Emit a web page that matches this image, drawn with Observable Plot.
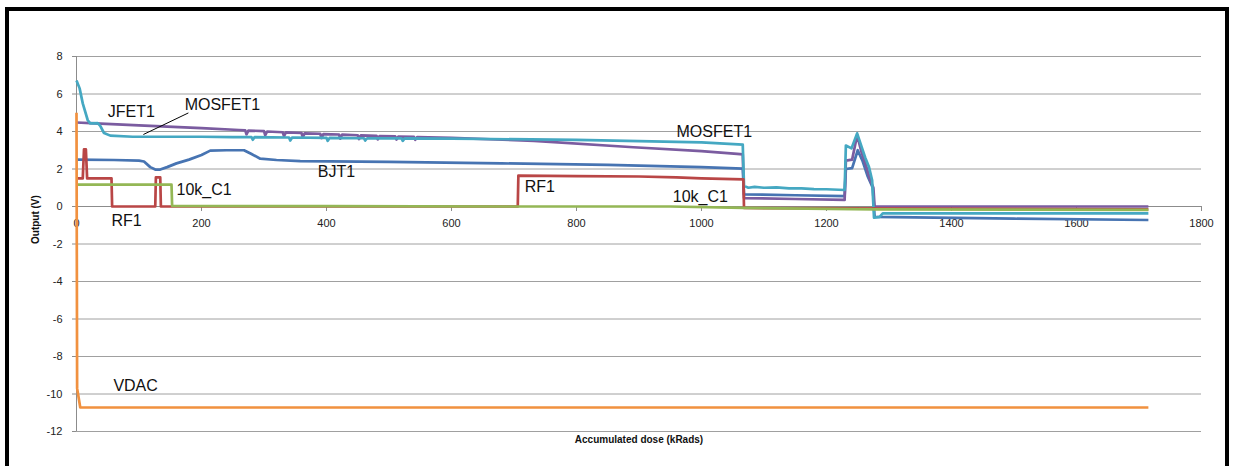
<!DOCTYPE html>
<html>
<head>
<meta charset="utf-8">
<script src="https://cdn.jsdelivr.net/npm/d3@7"></script>
<script src="https://cdn.jsdelivr.net/npm/@observablehq/plot@0.6"></script>
<style>
  html, body { margin: 0; padding: 0; background: #fff; overflow: hidden; }
  #wrap { position: relative; width: 1235px; height: 466px; }
  #frame { position: absolute; left: 5px; top: 7px; width: 1216px; height: 470px; border: 4px solid #000; pointer-events: none; }
  #chart { position: absolute; left: 0; top: 0; }
</style>
</head>
<body>
<div id="wrap"><div id="chart"></div><div id="frame"></div></div>
<script>
// ---- data ----
const xTicks = [0, 200, 400, 600, 800, 1000, 1200, 1400, 1600, 1800];
const yTicks = [-12, -10, -8, -6, -4, -2, 0, 2, 4, 6, 8];

const BJT1 = [[0,2.5],[60,2.48],[100,2.45],[108,2.4],[118,2.1],[126,1.97],[134,1.97],[145,2.1],[160,2.3],[180,2.5],[200,2.75],[214,2.98],[240,3.0],[268,3.0],[280,2.8],[294,2.55],[320,2.48],[358,2.42],[500,2.38],[680,2.3],[850,2.22],[1000,2.1],[1066,2.02],[1068,0.65],[1150,0.6],[1229,0.55],[1231,2.0],[1241,2.05],[1250,3.0],[1258,2.4],[1266,1.6],[1274,1.0],[1277,-0.55],[1500,-0.65],[1715,-0.72]];

const JFET1 = [[0,4.48],[30,4.43],[100,4.33],[200,4.18],[260,4.08],[270,4.06],[272,3.85],[275,4.05],[300,4.02],[302,3.8],[305,4.0],[330,3.96],[332,3.75],[335,3.95],[360,3.92],[362,3.7],[365,3.9],[390,3.88],[392,3.65],[395,3.86],[420,3.84],[422,3.62],[425,3.83],[450,3.8],[452,3.6],[455,3.79],[480,3.77],[482,3.58],[485,3.76],[510,3.74],[512,3.57],[515,3.73],[540,3.71],[542,3.56],[545,3.7],[600,3.66],[732,3.5],[891,3.16],[1000,2.95],[1057,2.81],[1066,2.78],[1068,0.45],[1150,0.4],[1229,0.35],[1231,2.45],[1241,2.5],[1249,3.8],[1256,2.9],[1263,2.2],[1270,1.4],[1275,1.0],[1277,0.0],[1715,0.0]];

const MOSFET1 = [[0,6.72],[5,6.3],[10,5.5],[18,4.6],[22,4.43],[34,4.45],[38,4.3],[44,3.92],[54,3.78],[90,3.72],[200,3.72],[250,3.7],[280,3.7],[282,3.56],[285,3.7],[340,3.68],[342,3.52],[345,3.68],[400,3.66],[402,3.5],[405,3.66],[460,3.64],[462,3.52],[465,3.64],[520,3.63],[522,3.5],[525,3.63],[600,3.62],[800,3.55],[1000,3.42],[1066,3.3],[1068,1.1],[1075,1.0],[1085,1.05],[1100,1.0],[1120,1.02],[1140,0.97],[1160,0.97],[1180,0.93],[1200,0.92],[1229,0.88],[1231,3.25],[1240,3.1],[1249,3.9],[1255,3.3],[1262,2.6],[1268,2.1],[1273,1.4],[1276,-0.6],[1285,-0.55],[1290,-0.37],[1715,-0.37]];

const RF1 = [[0,1.5],[10,1.5],[12,3.05],[15,3.05],[17,1.5],[56,1.5],[57,0],[126,0],[127,1.55],[134,1.55],[135,0],[706,0],[707,1.65],[800,1.62],[900,1.6],[960,1.55],[1000,1.5],[1067,1.45],[1068,-0.08],[1715,-0.15]];

const K10_C1 = [[0,1.17],[152,1.17],[153,0.03],[400,0.02],[700,0.0],[950,0.0],[1067,-0.07],[1277,-0.15],[1715,-0.18]];

const VDAC = [[0,5.0],[1,-9.7],[6,-10.72],[1715,-10.72]];

const seriesNames  = ["BJT1", "JFET1", "MOSFET1", "RF1", "10k_C1", "VDAC"];
const seriesValues = [BJT1, JFET1, MOSFET1, RF1, K10_C1, VDAC];
const seriesColors = ["#4774B2", "#7B5CA0", "#45A8C2", "#B94646", "#94B755", "#F1913F"];

const labels = [
  {text: "JFET1",   x: 50,  y: 5.07},
  {text: "MOSFET1", x: 173, y: 5.44},
  {text: "10k_C1",  x: 160, y: 0.9},
  {text: "RF1",     x: 56,  y: -0.77},
  {text: "BJT1",    x: 386, y: 1.87},
  {text: "RF1",     x: 717, y: 1.04},
  {text: "MOSFET1", x: 960, y: 3.97},
  {text: "10k_C1",  x: 954, y: 0.51},
  {text: "VDAC",    x: 59,  y: -9.55}
];
const leader = [{x1: 179, y1: 4.99, x2: 107, y2: 3.84}];

// ---- build table ----
const rows = [];
seriesValues.forEach((vals, i) => vals.forEach(([x, y]) => rows.push({series: seriesNames[i], x, y})));

const lineMarks = seriesNames.map((name, i) =>
  Plot.line(rows.filter(r => r.series === name), {
    x: "x", y: "y", stroke: seriesColors[i], strokeWidth: 2.7,
    strokeLinejoin: "round", strokeLinecap: "butt"
  })
);

const chart = Plot.plot({
  width: 1235,
  height: 466,
  marginLeft: 76,
  marginRight: 34,
  marginTop: 56,
  marginBottom: 35,
  x: {domain: [0, 1800]},
  y: {domain: [-12, 8]},
  style: {fontFamily: "'Liberation Sans', Arial, sans-serif", fontSize: "11px", color: "#222", background: "transparent"},
  marks: [
    Plot.ruleY(yTicks.filter(d => d !== 0), {stroke: "#a0a0a0", strokeWidth: 1}),
    Plot.ruleX([0], {stroke: "#8c8c8c", strokeWidth: 1}),
    Plot.ruleY([0], {stroke: "#8c8c8c", strokeWidth: 1}),
    Plot.ruleX(xTicks, {x: d => d, y1: 0, y2: 0, insetBottom: -5, stroke: "#8c8c8c"}),
    Plot.axisY({ticks: yTicks, tickSize: 4, tickPadding: 10, tickFormat: d => String(d), label: null, stroke: "#8c8c8c", fill: "#222"}),
    Plot.axisX({ticks: [], label: null}),
    Plot.text(xTicks, {x: d => d, y: 0, dy: 17, text: d => String(d), fill: "#222", fontSize: 11}),
    Plot.text(["Output (V)"], {frameAnchor: "left", dx: -41, rotate: -90, fontWeight: "bold", fontSize: 10, fill: "#111"}),
    Plot.text(["Accumulated dose (kRads)"], {frameAnchor: "bottom", dy: 11, fontWeight: "bold", fontSize: 10, fill: "#111"}),
    ...lineMarks,
    Plot.link(leader, {x1: "x1", y1: "y1", x2: "x2", y2: "y2", stroke: "#000", strokeWidth: 1}),
    Plot.text(labels, {x: "x", y: "y", text: "text", textAnchor: "start", fontSize: 16, fill: "#111"})
  ]
});
document.getElementById("chart").appendChild(chart);
</script>
</body>
</html>
